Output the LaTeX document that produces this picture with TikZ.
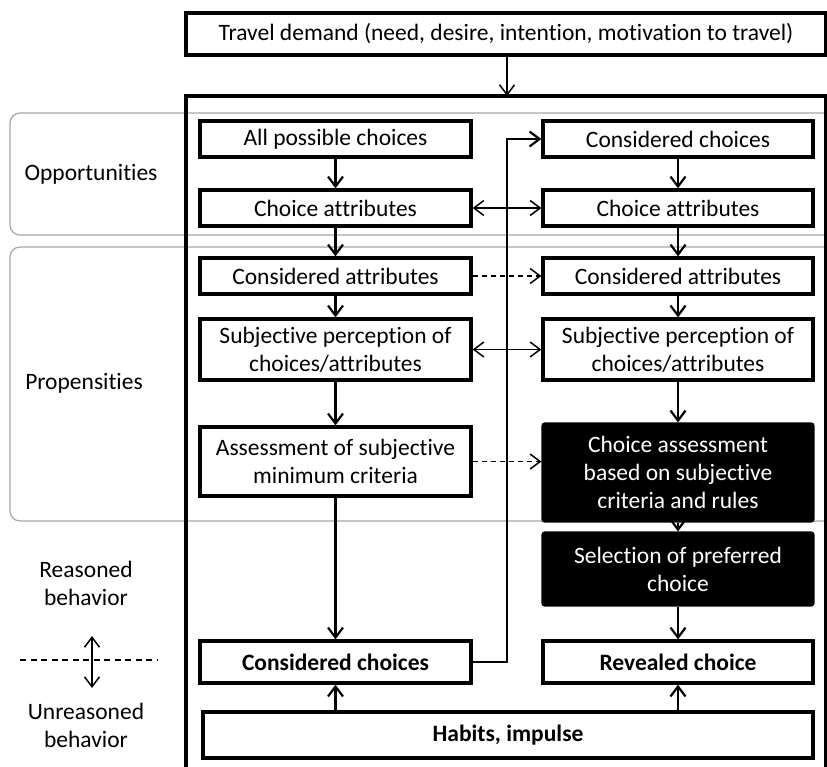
\documentclass[tikz,border=0pt]{standalone}
\usepackage{fontspec}
\setmainfont{Carlito}[Ligatures=NoCommon]
\usetikzlibrary{arrows.meta}
\begin{document}
\begin{tikzpicture}[x=1pt,y=-1pt,
  box/.style={draw,line width=3.2pt,fill=white,align=center,inner sep=0pt,
    font=\fontsize{23.5}{28}\selectfont},
  lbox/.style={box,minimum width=271pt},
  rbox/.style={box,minimum width=270pt},
  dark/.style={fill=black,text=white,draw=black,rounded corners=2pt},
  lab/.style={align=center,font=\fontsize{23.5}{28}\selectfont},
  grp/.style={draw=black!35,line width=1.2pt,rounded corners=10pt},
  dn/.style={line width=2.2pt,-{Straight Barb[length=10pt,width=15pt,line width=2.2pt]}},
  thin/.style={line width=1.5pt,-{Straight Barb[length=10pt,width=15pt,line width=1.5pt]}},
  both/.style={line width=1.5pt,{Straight Barb[length=10pt,width=15pt,line width=1.5pt]}-{Straight Barb[length=10pt,width=15pt,line width=1.5pt]}},
  dsh/.style={thin,dash pattern=on 5pt off 4pt}
]
\clip (0,0) rectangle (827,766);
\fill[white] (0,0) rectangle (827,766);
% group frames
\draw[grp] (10,113) rectangle (850,235);
\draw[grp] (10,247) rectangle (850,521);
% main frame
\draw[line width=3.2pt] (186,790) -- (186,96) -- (826,96) -- (826,790);
% top box
\node[box,minimum width=640pt,minimum height=42pt] (td) at (506,34) {Travel demand (need, desire, intention, motivation to travel)};
\coordinate (ft) at (507,96);
\draw[thin] (td.south -| ft) -- (ft);
% left column
\node[lbox,minimum height=36pt] (l1) at (335.5,139) {All possible choices};
\node[lbox,minimum height=36pt] (l2) at (335.5,208) {Choice attributes};
\node[lbox,minimum height=36pt] (l3) at (335.5,276) {Considered attributes};
\node[lbox,minimum height=61pt] (l4) at (335.5,349.5) {Subjective perception of\\choices/attributes};
\node[lbox,minimum height=69pt] (l5) at (335.5,461.5) {Assessment of subjective\\minimum criteria};
\node[lbox,minimum height=42pt,font=\fontsize{23.5}{28}\selectfont\bfseries] (l6) at (335.5,662) {Considered choices};
% right column
\node[rbox,minimum height=36pt] (r1) at (678,139) {Considered choices};
\node[rbox,minimum height=36pt] (r2) at (678,208) {Choice attributes};
\node[rbox,minimum height=36pt] (r3) at (678,276) {Considered attributes};
\node[rbox,minimum height=61pt] (r4) at (678,349.5) {Subjective perception of\\choices/attributes};
\node[rbox,dark,minimum height=97pt] (r5) at (678,472.5) {Choice assessment\\based on subjective\\criteria and rules};
\node[rbox,dark,minimum height=72pt] (r6) at (678,569) {Selection of preferred\\choice};
\node[rbox,minimum height=42pt,font=\fontsize{23.5}{28}\selectfont\bfseries] (r7) at (678,662) {Revealed choice};
% habits
\node[box,minimum width=610pt,minimum height=46pt,font=\fontsize{23.5}{28}\selectfont\bfseries] (hb) at (508,735) {Habits, impulse};
% vertical arrows
\draw[dn] (l1) -- (l2);
\draw[dn] (l2) -- (l3);
\draw[dn] (l3) -- (l4);
\draw[dn] (l4) -- (l5);
\draw[dn] (l5) -- (l6);
\draw[dn] (r1) -- (r2);
\draw[dn] (r2) -- (r3);
\draw[dn] (r3) -- (r4);
\draw[dn] (r4) -- (r5);
\draw[dn] (r5) -- (r6);
\draw[dn] (r6) -- (r7);
\draw[dn] (hb.north -| l6) -- (l6);
\draw[dn] (hb.north -| r7) -- (r7);
% horizontal links
\draw[both] (l2) -- (r2);
\draw[both] (l4) -- (r4);
\draw[dsh] (l3) -- (r3);
\draw[dsh] (l5.east) -- (l5.east -| r5.west);
% feedback from considered choices
\coordinate (fb) at (507,0);
\draw[dn] (l6.east) -- (l6.east -| fb) -- (r1.west -| fb) -- (r1.west);
% left labels
\node[lab] (op) at (91,174) {Opportunities};
\node[lab] (pr) at (84,383) {Propensities};
\node[lab] (rb) at (86,583) {Reasoned\\behavior};
\node[lab] (ub) at (86,725) {Unreasoned\\behavior};
\coordinate (dl) at (20,660);
\coordinate (dr) at (158,660);
\draw[line width=1.5pt,dash pattern=on 6pt off 4.5pt] (dl) -- (dr);
\coordinate (au) at (92,636);
\coordinate (ad) at (92,688);
\draw[both] (au) -- (ad);
\end{tikzpicture}
\end{document}
